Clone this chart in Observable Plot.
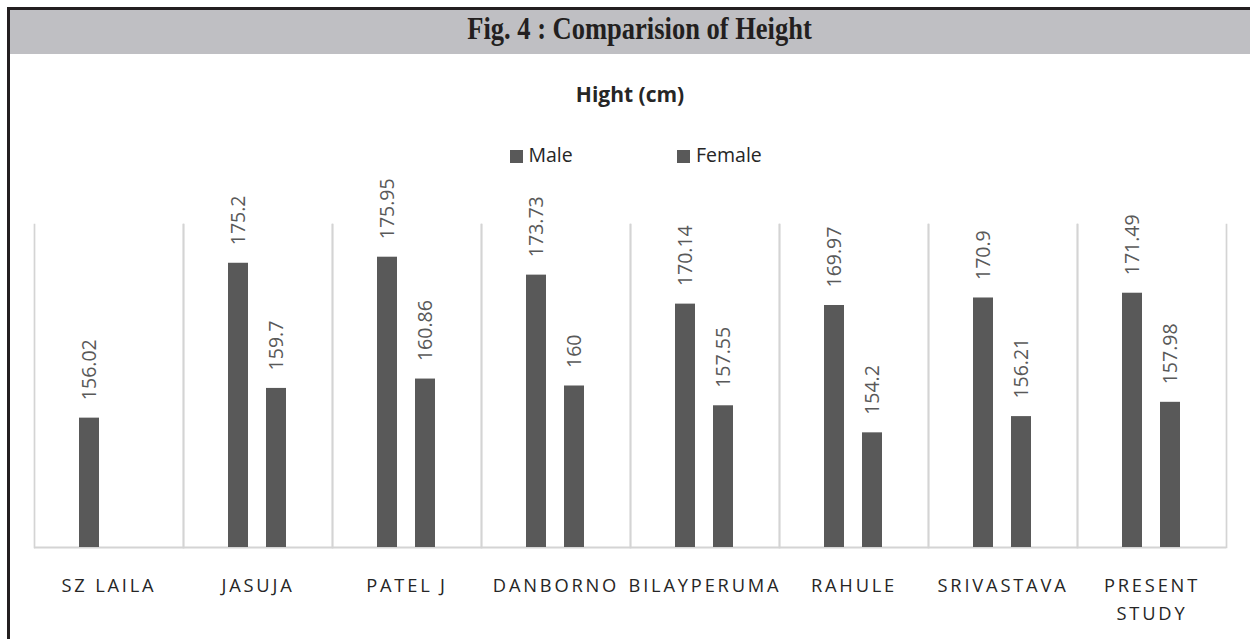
<!DOCTYPE html>
<html>
<head>
<meta charset="utf-8">
<script src="https://cdn.jsdelivr.net/npm/d3@7"></script>
<script src="https://cdn.jsdelivr.net/npm/@observablehq/plot@0.6"></script>
<style>
  html, body { margin: 0; padding: 0; background: #fff; }
  #page { position: relative; width: 1250px; height: 639px; overflow: hidden; background: #fff; }
  #frameTop { position: absolute; left: 7px; top: 7px; width: 1243px; height: 2.5px; background: #231f20; }
  #frameLeft { position: absolute; left: 7px; top: 7px; width: 2.5px; height: 632px; background: #231f20; }
  #band { position: absolute; left: 9.5px; top: 9.5px; right: 0; height: 44.5px; background: #bfbfc3; }
  #figTitle { position: absolute; left: 0; width: 1278px; top: 13px; text-align: center;
    font-family: "Liberation Serif", serif; font-weight: bold; font-size: 31px; line-height: 31px;
    color: #231f20; white-space: nowrap; }
  #figTitle span { display: inline-block; transform: scaleX(0.855); transform-origin: center; }
  #sub { position: absolute; left: 0; width: 1260px; top: 84.3px; text-align: center;
    font-family: "Open Sans", sans-serif; font-weight: bold; font-size: 21px; line-height: 21px; color: #262626; }
  .leg { position: absolute; top: 144.7px; font-family: "Open Sans", sans-serif; font-size: 19.5px; line-height: 19.5px; color: #262626; }
  .sw { position: absolute; top: 149.5px; width: 13px; height: 13px; background: #595959; }
  #chart { position: absolute; left: 0; top: 170px; }
  #chart svg [aria-label="fx-axis tick label"] text { letter-spacing: 2.8px; }
</style>
</head>
<body>
<div id="page">
  <div id="band"></div>
  <div id="frameTop"></div>
  <div id="frameLeft"></div>
  <div id="figTitle"><span id="figTitleText"></span></div>
  <div id="sub"></div>
  <div id="legend"></div>
  <div id="chart"></div>
</div>
<script>
// ---- data ----
const studies = ["SZ LAILA", "JASUJA", "PATEL J", "DANBORNO", "BILAYPERUMA", "RAHULE", "SRIVASTAVA", "PRESENT STUDY"];
const series = ["Male", "Female"];
const maleValues   = [156.02, 175.2, 175.95, 173.73, 170.14, 169.97, 170.9, 171.49];
const femaleValues = [null,   159.7, 160.86, 160,    157.55, 154.2,  156.21, 157.98];
const yDomain = [140, 180];
const chartTitle = "Fig. 4 : Comparision of Height";
const chartSubtitle = "Hight (cm)";

document.getElementById("figTitleText").textContent = chartTitle;
document.getElementById("sub").textContent = chartSubtitle;

// ---- legend ----
const legend = document.getElementById("legend");
const legendPos = [{sw: 509.5, tx: 528.5}, {sw: 677, tx: 696}];
series.forEach((s, i) => {
  const sw = document.createElement("div");
  sw.className = "sw"; sw.style.left = legendPos[i].sw + "px";
  const t = document.createElement("div");
  t.className = "leg"; t.style.left = legendPos[i].tx + "px"; t.textContent = s;
  legend.appendChild(sw); legend.appendChild(t);
});

// ---- table ----
const rows = [];
studies.forEach((st, i) => {
  if (maleValues[i] != null) rows.push({study: st, sex: "Male", value: maleValues[i]});
  if (femaleValues[i] != null) rows.push({study: st, sex: "Female", value: femaleValues[i]});
});

const gridColor = "#d4d4d4";
const chart = Plot.plot({
  width: 1250,
  height: 469,
  marginTop: 54,
  marginBottom: 92,
  marginLeft: 34,
  marginRight: 24,
  style: {fontFamily: "'Open Sans', sans-serif", background: "transparent", overflow: "visible"},
  fx: {domain: studies, padding: 0, label: null},
  x: {domain: series, paddingInner: 0.4675, paddingOuter: 1.168, axis: null},
  y: {domain: yDomain, axis: null},
  marks: [
    Plot.frame({anchor: "left", stroke: gridColor, strokeWidth: 1.7}),
    Plot.frame({anchor: "right", stroke: gridColor, strokeWidth: 1.7}),
    Plot.ruleY([yDomain[0]], {stroke: gridColor, strokeWidth: 2.2}),
    Plot.barY(rows, {fx: "study", x: "sex", y1: yDomain[0], y2: "value", fill: "#595959"}),
    Plot.text(rows, {fx: "study", x: "sex", y: "value", text: d => String(d.value),
      rotate: -90, textAnchor: "start", dy: -18, fontSize: 19.5, fill: "#595959"}),
    Plot.axisFx({anchor: "bottom", tickSize: 0, tickPadding: 25, fontSize: 18.3, label: null,
      lineHeight: 1.53, fill: "#262626",
      tickFormat: d => d === "PRESENT STUDY" ? "PRESENT\nSTUDY" : d})
  ]
});
document.getElementById("chart").appendChild(chart);
</script>
</body>
</html>
